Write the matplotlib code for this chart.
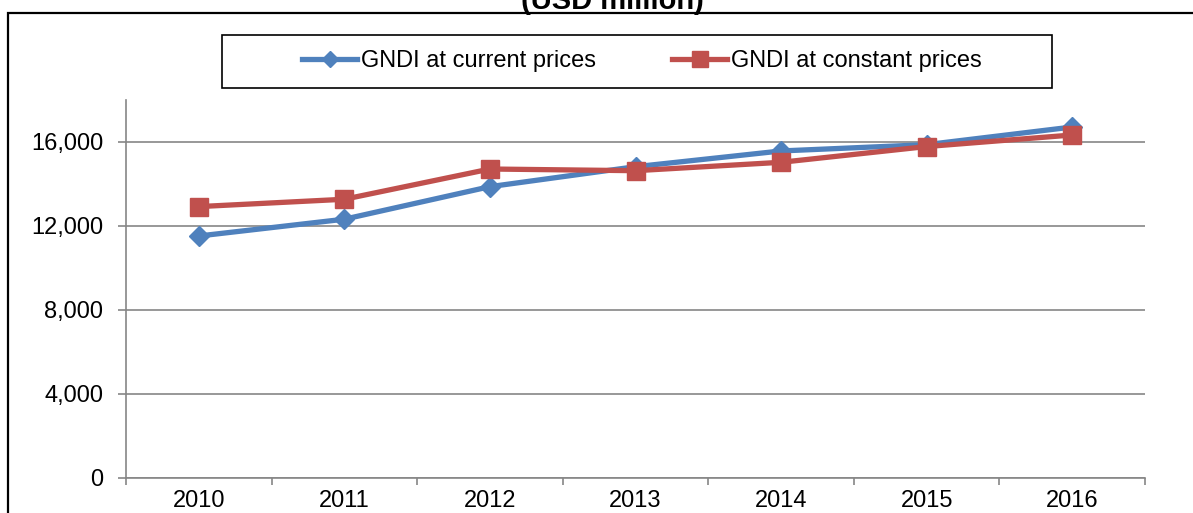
import matplotlib.pyplot as plt
from matplotlib.patches import Rectangle
from matplotlib.ticker import FuncFormatter, MultipleLocator

# GNDI (USD million)
anys = ['2010', '2011', '2012', '2013', '2014', '2015', '2016']
gndi_corrent = [11500, 12300, 13850, 14800, 15550, 15850, 16690]
gndi_constant = [12900, 13250, 14690, 14610, 15010, 15760, 16310]

plt.rcParams['font.family'] = ['Liberation Sans', 'DejaVu Sans']

blau = '#4F81BD'
vermell = '#C0504D'
gris = '#868686'

fig = plt.figure(figsize=(11.93, 5.13), dpi=100)
ax = fig.add_axes([126 / 1193, 1 - 477.5 / 513, 1019 / 1193, 378 / 513])

x = list(range(len(anys)))
l1, = ax.plot(x, gndi_corrent, color=blau, lw=3.8, marker='D', ms=10,
              mec=blau, label='GNDI at current prices', clip_on=False, zorder=3)
l2, = ax.plot(x, gndi_constant, color=vermell, lw=3.8, marker='s', ms=13.5,
              mec=vermell, label='GNDI at constant prices', clip_on=False, zorder=4)

ax.set_xlim(-0.5, len(anys) - 0.5)
ax.set_ylim(0, 18000)
ax.yaxis.set_major_locator(MultipleLocator(4000))
ax.yaxis.set_major_formatter(FuncFormatter(lambda v, p: f'{int(v):,}'))
ax.grid(axis='y', color=gris, lw=1.2)
ax.set_axisbelow(True)

ax.set_xticks(x)
ax.set_xticklabels(anys)
ax.set_xticks([i - 0.5 for i in range(len(anys) + 1)], minor=True)
ax.tick_params(axis='x', which='major', length=0, pad=9, labelsize=17)
ax.tick_params(axis='x', which='minor', length=5, width=1.2, color=gris, direction='out')
ax.tick_params(axis='y', length=5.5, width=1.2, color=gris, pad=11, labelsize=17)

for s in ['top', 'right']:
    ax.spines[s].set_visible(False)
for s in ['left', 'bottom']:
    ax.spines[s].set_color(gris)
    ax.spines[s].set_linewidth(1.2)

# marc exterior i titol tallat (com a la imatge original)
fig.patches.append(Rectangle((8 / 1193, -0.2), 1.2, 1.2 - 13 / 513,
                             transform=fig.transFigure, fill=False,
                             edgecolor='black', lw=1.6, clip_on=False))
fig.text(612 / 1193, 1 - 9 / 513, '(USD million)', ha='center', va='baseline',
         fontsize=21, fontweight='bold')

# llegenda
fig.patches.append(Rectangle((222 / 1193, 1 - 88 / 513), 830 / 1193, 53 / 513,
                             transform=fig.transFigure, fill=False,
                             edgecolor='black', lw=1.2))
fig.legend(handles=[l1, l2], loc='center', bbox_to_anchor=(642 / 1193, 1 - 61 / 513),
           ncol=2, frameon=False, fontsize=17, handlelength=2.35,
           handletextpad=0.17, columnspacing=3.2, markerscale=0.85)

plt.savefig('out.png', dpi=100)
plt.close('all')
